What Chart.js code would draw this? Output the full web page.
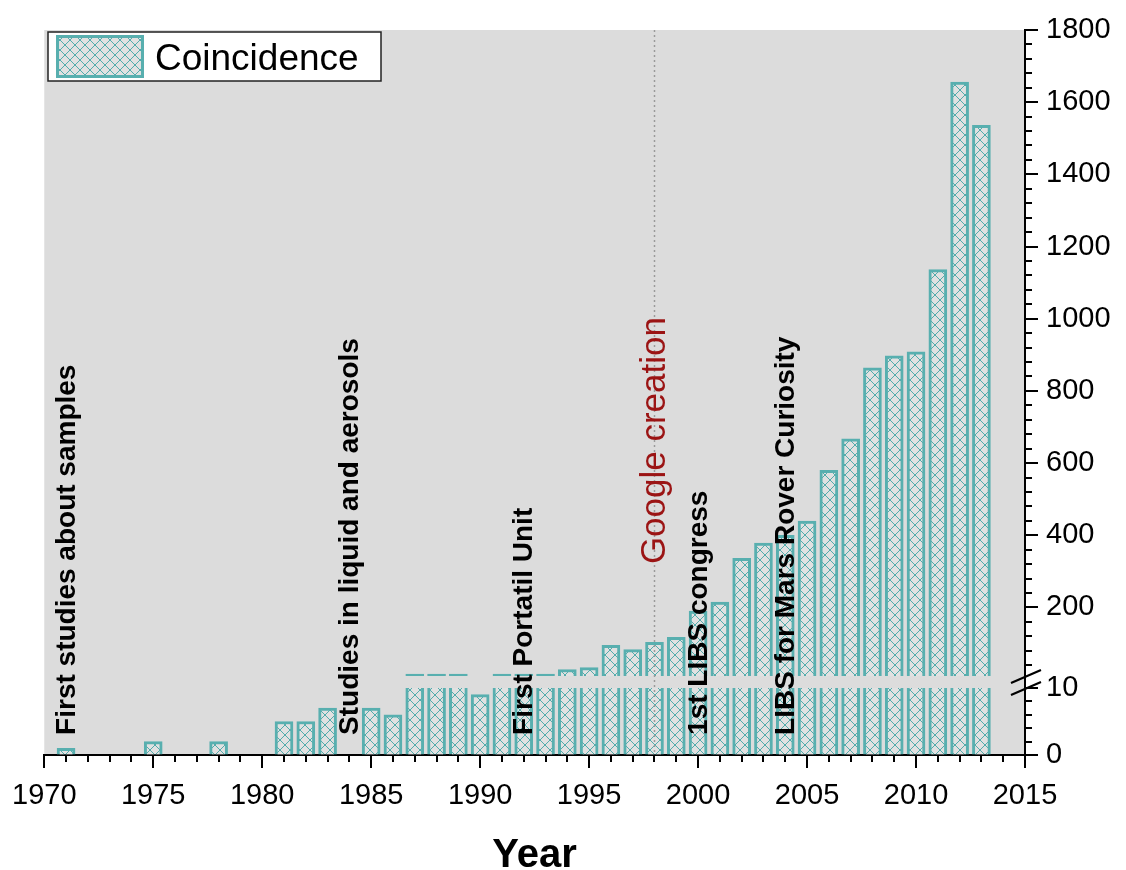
<!DOCTYPE html>
<html><head><meta charset="utf-8">
<script src="https://cdn.jsdelivr.net/npm/chart.js@4.4.1/dist/chart.umd.min.js"></script>
<style>html,body{margin:0;padding:0;background:#fff;}canvas{display:block;}</style>
</head><body>
<canvas id="c" width="1126" height="870"></canvas>
<script>
// ---- data ----
const years  = [1971,1975,1978,1981,1982,1983,1985,1986,1987,1988,1989,1990,1991,1992,1993,1994,1995,1996,1997,1998,1999,2000,2001,2002,2003,2004,2005,2006,2007,2008,2009,2010,2011,2012,2013];
const counts = [1,2,2,5,5,7,7,6,15,15,15,9,15,15,15,28,33,95,83,103,117,190,215,336,378,400,439,580,667,864,897,908,1136,1656,1536];
const seriesLabel = 'Coincidence';
const xTickLabels = [1970,1975,1980,1985,1990,1995,2000,2005,2010,2015];
const yHighTickLabels = [200,400,600,800,1000,1200,1400,1600,1800];
const yLowTickLabels = [0,10];
const breakValue = 10;
const eventYears = [1971,1984,1992,2000,2004];
const eventTexts = ['First studies about samples','Studies in liquid and aerosols','First Portatil Unit','1st LIBS congress','LIBS for Mars Rover Curiosity'];
const googleYear = 1998;
const googleText = 'Google creation';
const axisTitle = 'Year';

// ---- styles ----
const TEAL = '#58afaf';
const SANS = "'Liberation Sans',Arial,sans-serif";

function makeHatch(){
  const s = 10;
  const c = document.createElement('canvas'); c.width = s; c.height = s;
  const g = c.getContext('2d');
  g.fillStyle = '#e1e1e1'; g.fillRect(0,0,s,s);
  g.strokeStyle = 'rgba(66,166,166,0.9)'; g.lineWidth = 1;
  g.beginPath();
  g.moveTo(-1,-1); g.lineTo(s+1,s+1);
  g.moveTo(s+1,-1); g.lineTo(-1,s+1);
  g.stroke();
  return g.createPattern(c,'repeat');
}
const hatch = makeHatch();

const lowData = years.map((yr,i)=>({x:yr, y:Math.min(counts[i],breakValue), v:counts[i]}));
const highData = years.map((yr,i)=>({x:yr, y:counts[i], v:counts[i]})).filter(p=>p.v>breakValue);

const decor = {
  id:'decor',
  beforeDraw(chart){
    const {ctx, chartArea:a} = chart;
    ctx.save(); ctx.fillStyle = '#dcdcdc';
    ctx.fillRect(a.left, a.top, a.right-a.left, a.bottom-a.top);
    ctx.restore();
  },
  afterDatasetsDraw(chart){
    const {ctx, chartArea:a, scales} = chart;
    const xs = scales.x, yLow = scales.yLow, yHigh = scales.yHigh;
    ctx.save();
    const gx = Math.round(xs.getPixelForValue(googleYear)) + 0.5;
    ctx.strokeStyle = '#9a9a9a'; ctx.lineWidth = 1.5; ctx.setLineDash([2,3]);
    ctx.beginPath(); ctx.moveTo(gx, a.top); ctx.lineTo(gx, a.bottom); ctx.stroke();
    ctx.setLineDash([]);
    ctx.fillStyle = '#000'; ctx.font = 'bold 28px ' + SANS;
    ctx.textAlign = 'left'; ctx.textBaseline = 'middle';
    const yb = yLow.getPixelForValue(3);
    eventYears.forEach((yr,i)=>{
      ctx.save();
      ctx.translate(xs.getPixelForValue(yr)+1, yb);
      ctx.rotate(-Math.PI/2);
      ctx.fillText(eventTexts[i], 0, 0);
      ctx.restore();
    });
    ctx.save();
    ctx.fillStyle = '#9b1414'; ctx.font = '35px ' + SANS;
    ctx.translate(xs.getPixelForValue(googleYear)+1, yHigh.getPixelForValue(320));
    ctx.rotate(-Math.PI/2);
    ctx.fillText(googleText, 0, 0);
    ctx.restore();
    // legend
    ctx.fillStyle = '#fff'; ctx.fillRect(48,32,333,49);
    ctx.strokeStyle = '#222'; ctx.lineWidth = 1.5; ctx.strokeRect(48,32,333,49);
    ctx.fillStyle = hatch; ctx.fillRect(56,35,88,43);
    ctx.strokeStyle = TEAL; ctx.lineWidth = 3; ctx.strokeRect(57.5,36.5,85,40);
    ctx.fillStyle = '#000'; ctx.font = '37px ' + SANS; ctx.textBaseline = 'alphabetic';
    ctx.fillText(chart.data.datasets[0].label, 155, 70);
    ctx.restore();
  },
  afterDraw(chart){
    const {ctx, chartArea:a, scales} = chart;
    const xs = scales.x, yLow = scales.yLow, yHigh = scales.yHigh;
    ctx.save();
    ctx.strokeStyle = '#000'; ctx.lineWidth = 2;
    ctx.beginPath();
    for (let yr = xs.min; yr <= xs.max; yr++) {
      const px = Math.round(xs.getPixelForValue(yr));
      const len = yr % 5 === 0 ? 13 : 7;
      ctx.moveTo(px, a.bottom); ctx.lineTo(px, a.bottom + len);
    }
    for (let v = 40; v <= yHigh.max; v += 40) {
      const py = Math.round(yHigh.getPixelForValue(v));
      const len = v % 200 === 0 ? 13 : 7;
      ctx.moveTo(a.right, py); ctx.lineTo(a.right + len, py);
    }
    for (let v = 0; v <= yLow.max; v += 2) {
      const py = Math.round(yLow.getPixelForValue(v));
      const len = (v === 0 || v === 10) ? 13 : 7;
      ctx.moveTo(a.right, py); ctx.lineTo(a.right + len, py);
    }
    ctx.stroke();
    const b1 = yHigh.bottom, b2 = yLow.top;
    ctx.lineWidth = 2.2;
    ctx.beginPath();
    ctx.moveTo(a.right - 14, b1 + 7); ctx.lineTo(a.right + 16, b1 - 6);
    ctx.moveTo(a.right - 14, b2 + 7); ctx.lineTo(a.right + 16, b2 - 6);
    ctx.stroke();
    ctx.restore();
  }
};

const yCommon = {
  type:'linear', position:'right', stack:'y',
  border:{display:true, color:'#000', width:2},
  grid:{display:true, drawOnChartArea:false, drawTicks:true, tickLength:12, tickColor:'rgba(0,0,0,0)'},
  ticks:{color:'#000', padding:9, font:{family:SANS, size:29}, callback:(v)=>String(v)},
  afterFit(s){ s.width = 101; }
};

new Chart(document.getElementById('c'), {
  type:'bar',
  data:{ datasets:[
    { label:seriesLabel, data:lowData, yAxisID:'yLow', grouped:false, barThickness:18,
      backgroundColor:hatch, borderColor:TEAL, borderSkipped:false,
      borderWidth:(c)=> (c.raw && c.raw.v > breakValue) ? {top:0,left:3,right:3,bottom:0} : {top:3,left:3,right:3,bottom:0} },
    { label:seriesLabel, data:highData, yAxisID:'yHigh', grouped:false, barThickness:18,
      backgroundColor:hatch, borderColor:TEAL, borderSkipped:false,
      borderWidth:{top:3,left:3,right:3,bottom:0} }
  ]},
  options:{
    responsive:false, animation:false,
    layout:{padding:{left:44, top:30, right:0, bottom:0}},
    plugins:{legend:{display:false}, tooltip:{enabled:false}},
    scales:{
      x:{ type:'linear', min:1970, max:2015, offset:false,
        border:{display:true, color:'#000', width:2},
        grid:{display:true, drawOnChartArea:false, drawTicks:true, tickLength:12, tickColor:'rgba(0,0,0,0)', offset:false},
        ticks:{color:'#000', padding:12, maxRotation:0, autoSkip:false, font:{family:SANS, size:29}, callback:(v)=>String(v)},
        afterBuildTicks(s){ s.ticks = xTickLabels.map(v=>({value:v})); },
        title:{display:true, text:axisTitle, color:'#000', font:{family:SANS, size:40, weight:'bold', lineHeight:1}, padding:{top:0,bottom:-6}},
        afterFit(s){ s.height = 115; }
      },
      yHigh: Object.assign({}, yCommon, { min:breakValue, max:1800, stackWeight:646,
        afterBuildTicks(s){ s.ticks = yHighTickLabels.map(v=>({value:v})); } }),
      yGap: { type:'linear', position:'right', stack:'y', stackWeight:12, min:0, max:1,
        border:{display:true, color:'#000', width:2},
        grid:{display:false}, ticks:{display:false},
        afterFit(s){ s.width = 101; } },
      yLow: Object.assign({}, yCommon, { min:0, max:breakValue, stackWeight:67,
        afterBuildTicks(s){ s.ticks = yLowTickLabels.map(v=>({value:v})); } })
    }
  },
  plugins:[decor]
});
</script>
</body></html>
